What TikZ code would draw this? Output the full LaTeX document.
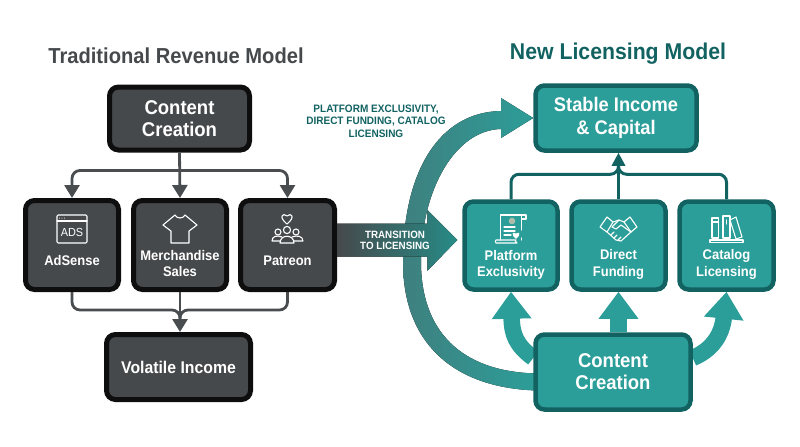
\documentclass[tikz,border=0pt]{standalone}
\usepackage{fontspec}
\setmainfont[FakeStretch=0.93]{Liberation Sans}
\usepackage{xcolor}
\definecolor{rvslate}{RGB}{70,73,76}
\definecolor{rvline}{RGB}{74,77,80}
\definecolor{rvblack}{RGB}{14,14,14}
\definecolor{rvteal}{RGB}{44,158,153}
\definecolor{rvtealdark}{RGB}{18,98,98}
\definecolor{rvtealgrey}{RGB}{62,128,127}
\definecolor{rvseal}{RGB}{170,190,170}
\usetikzlibrary{arrows.meta, positioning, calc, backgrounds}
\def\pxu{0.03cm}
\tikzset{
  darkbox/.style={draw=rvblack, fill=rvslate, line width=5*\pxu, rounded corners=9*\pxu, text=white, font=\bfseries, align=center},
  tealbox/.style={draw=rvtealdark, fill=rvteal, line width=4.5*\pxu, rounded corners=9*\pxu, text=white, font=\bfseries, align=center},
  bigtext/.style={font=\fontsize{17pt}{19pt}\selectfont\bfseries},
  midtext/.style={font=\fontsize{14.5pt}{16pt}\selectfont\bfseries},
  smalltext/.style={text=white, align=center, font=\fontsize{11.9pt}{13.8pt}\selectfont\bfseries},
  headtext/.style={font=\fontsize{18.5pt}{22pt}\selectfont\bfseries},
  iconline/.style={draw=white, line width=1.1*\pxu, line join=round, line cap=round},
  slatearrow/.style={rvline, line width=2.8*\pxu, rounded corners=8*\pxu, -{Triangle[length=13*\pxu, width=15*\pxu]}},
  slateplain/.style={rvline, line width=2.8*\pxu, rounded corners=8*\pxu},
  tealarrow/.style={rvtealdark, line width=3*\pxu, rounded corners=8*\pxu, -{Triangle[length=13*\pxu, width=13*\pxu]}},
  tealplain/.style={rvtealdark, line width=3*\pxu, rounded corners=8*\pxu},
  fatarrow/.style={rvteal, line width=16.5*\pxu, -{Triangle[length=27*\pxu, width=38*\pxu]}},
}
\begin{document}
\begin{tikzpicture}[x=0.03cm, y=-0.03cm]
\useasboundingbox (0,0) rectangle (800,447);

% --- Left side: Traditional Revenue Model ---
\node[headtext, text=rvslate] (lefthead) at (176,56) {Traditional Revenue Model};

\node[darkbox, bigtext, minimum width=140*\pxu, minimum height=63*\pxu] (contentl) at (179.5,118.5) {Content\\Creation};
\node[darkbox, minimum width=93*\pxu, minimum height=89*\pxu] (adsense) at (72,245) {};
\node[darkbox, minimum width=93*\pxu, minimum height=89*\pxu] (merch) at (180,245) {};
\node[darkbox, minimum width=94*\pxu, minimum height=89*\pxu] (patreon) at (287.5,245) {};
\node[darkbox, midtext, minimum width=144*\pxu, minimum height=65*\pxu] (volatile) at (178.5,367) {Volatile Income};

\node[smalltext] (adsenselabel) at (72,260.5) {AdSense};
\node[smalltext] (merchlabel) at (180,263.5) {Merchandise\\Sales};
\node[smalltext] (patreonlabel) at (287.5,260.5) {Patreon};

% Connectors, top
\coordinate (topbus) at ($(contentl.south)+(0,18)$);
\draw[slatearrow] (contentl.south) -- (merch.north);
\draw[slatearrow] (topbus) -| (adsense.north);
\draw[slatearrow] (topbus) -| (patreon.north);

% Connectors, bottom
\coordinate (lowbus) at ($(merch.south)+(0,18)$);
\draw[slatearrow] (merch.south) -- (merch.south |- volatile.north);
\draw[slateplain] (adsense.south) |- (lowbus) -- ($(lowbus)+(0,9)$);
\draw[slateplain] (patreon.south) |- (lowbus) -- ($(lowbus)+(0,9)$);

% AdSense icon
\draw[iconline, rounded corners=1] (57,215) rectangle (87,243);
\draw[iconline] (57,221) -- (87,221);
\foreach \dotx in {59.5,62,64.5} \fill[white] (\dotx,218) circle (0.5);
\node[text=white, font=\fontsize{10pt}{10pt}\selectfont] (adsicon) at (72,232) {ADS};

% Merchandise icon
\draw[iconline] (175,215) .. controls (177,219) and (183,219) .. (185,215) -- (197,225) -- (189,231) -- (189,243) -- (171,243) -- (171,231) -- (163,225) -- cycle;

% Patreon icon
\draw[iconline] (287,224) .. controls (278,217) and (283,212) .. (287,216) .. controls (291,212) and (296,217) .. (287,224) -- cycle;
\draw[iconline] (287,230) circle (3.6);
\draw[iconline] (278,232) circle (3);
\draw[iconline] (296,232) circle (3);
\draw[iconline] (280,243) .. controls (280,234) and (294,234) .. (294,243) -- cycle;
\draw[iconline] (280,241) -- (272,241) .. controls (272,236) and (277,235) .. (282,237);
\draw[iconline] (294,241) -- (303,241) .. controls (303,236) and (297,235) .. (292,237);

% --- Right side: New Licensing Model ---
\node[headtext, text=rvtealdark, font=\fontsize{19.5pt}{22pt}\selectfont\bfseries] (righthead) at (618,54) {New Licensing Model};

\node[tealbox, minimum width=161*\pxu, minimum height=65*\pxu, font=\fontsize{16.8pt}{19pt}\selectfont\bfseries] (stable) at (616,118) {\raisebox{-1.5pt}{Stable Income}\\\raisebox{-1.5pt}{\& Capital}};
\node[tealbox, minimum width=93*\pxu, minimum height=88*\pxu] (platform) at (511,245.5) {};
\node[tealbox, minimum width=94*\pxu, minimum height=88*\pxu] (direct) at (618.5,245.5) {};
\node[tealbox, minimum width=94*\pxu, minimum height=88*\pxu] (catalog) at (726.5,245.5) {};
\node[tealbox, bigtext, minimum width=155*\pxu, minimum height=75*\pxu] (contentr) at (613,372) {Content\\Creation};

\node[smalltext] (platformlabel) at (511,264.5) {Platform\\Exclusivity};
\node[smalltext] (directlabel) at (618.5,264.5) {Direct\\Funding};
\node[smalltext] (cataloglabel) at (726.5,264.5) {Catalog\\Licensing};

% Connectors, top
\coordinate (tealbus) at ($(direct.north)+(0,-25)$);
\draw[tealarrow] (direct.north) -- (direct.north |- stable.south);
\draw[tealplain] (platform.north) |- (tealbus) -- ($(tealbus)+(0,-8)$);
\draw[tealplain] (catalog.north) |- (tealbus) -- ($(tealbus)+(0,-8)$);

% Fat arrows, behind the boxes
\begin{scope}[on background layer]
\fill[left color=rvtealgrey, right color=rvteal]
  ($(contentr.west)+(4,18.5)$) .. controls (452,388) and (403,342) .. (403,262)
  .. controls (403,170) and (440,112) .. (501,111) -- (501,98) -- (stable.west) -- (501,138) -- (501,129)
  .. controls (455,130) and (421,190) .. (421,262)
  .. controls (421,330) and (460,372) .. ($(contentr.west)+(4,1.5)$) -- cycle;
\draw[fatarrow] (contentr.170) .. controls (516,345) and (512,335) .. (platform.south);
\draw[fatarrow] (contentr.north -| direct.south) -- (direct.south);
\draw[fatarrow] (contentr.10) .. controls (712,350) and (722,335) .. (catalog.south);
\end{scope}

% Transition arrow
\coordinate (transtip) at ($(platform.west)+(-5,-5.5)$);
\fill[left color=rvslate, right color=rvteal!88!black]
  ($(patreon.east)+(0,-21.5)$) -- ($(transtip)+(-30,-16.5)$) -- ($(transtip)+(-30,-30)$) -- (transtip)
  -- ($(transtip)+(-30,31)$) -- ($(transtip)+(-30,16.5)$) -- ($(patreon.east)+(0,11.5)$) -- cycle;
\node[text=white, align=center, font=\fontsize{9pt}{9.4pt}\selectfont\bfseries] (transitionlabel) at (395,240.5) {TRANSITION\\TO LICENSING};

% Label over the big arc
\node[text=rvtealdark, align=center, font=\fontsize{9.2pt}{10.7pt}\selectfont\bfseries] (arclabel) at (376,121)
     {PLATFORM EXCLUSIVITY,\\DIRECT FUNDING, CATALOG\\LICENSING};

% Platform icon
\draw[iconline] (496,243) -- (517,243) .. controls (515,241.5) and (515,240.5) .. (516,240) -- (496,240) .. controls (495,241) and (495,242) .. (496,243);
\draw[iconline] (500.7,240) -- (500.7,215) -- (526,215) -- (526,219) -- (521.7,219) -- (521.7,230);
\draw[iconline] (521.7,215) -- (521.7,219);
\draw[iconline] (521.7,238) -- (521.7,240);
\foreach \liney/\lineend in {227/515,231/515,235/511} \draw[iconline] (504,\liney) -- (\lineend,\liney);
\fill[rvseal] (512,221) circle (3.3);
\fill[white] (516,239) .. controls (511,235) and (512,231) .. (516,233.5) .. controls (520,231) and (521,235) .. (516,239) -- cycle;

% Direct funding icon
\draw[iconline] (600,227) -- (607,217) -- (613,222) -- (607,232) -- cycle;
\draw[iconline] (637,227) -- (630,217) -- (624,222) -- (631,232) -- cycle;
\draw[iconline] (613,222) -- (619,220) -- (624,222);
\draw[iconline] (619,220) -- (612,227) -- (616,229) -- (621,225) -- (631,232);
\draw[iconline] (607,232) -- (616,240) -- (621,241) -- (631,232);
\draw[iconline] (611,235) -- (614,232);
\draw[iconline] (614,238) -- (617,235);
\draw[iconline] (618,240) -- (621,237);

% Catalog icon
\draw[iconline] (710,240) rectangle (743,242.5);
\draw[iconline] (712,218) rectangle (718.5,238);
\draw[iconline] (723,216) rectangle (730,238);
\draw[iconline] (730,220) -- (736,217) -- (742,237) -- (736,239) -- cycle;
\draw[iconline] (712,222) -- (718.5,222);
\draw[iconline] (726.5,220) -- (726.5,224);
\end{tikzpicture}
\end{document}
